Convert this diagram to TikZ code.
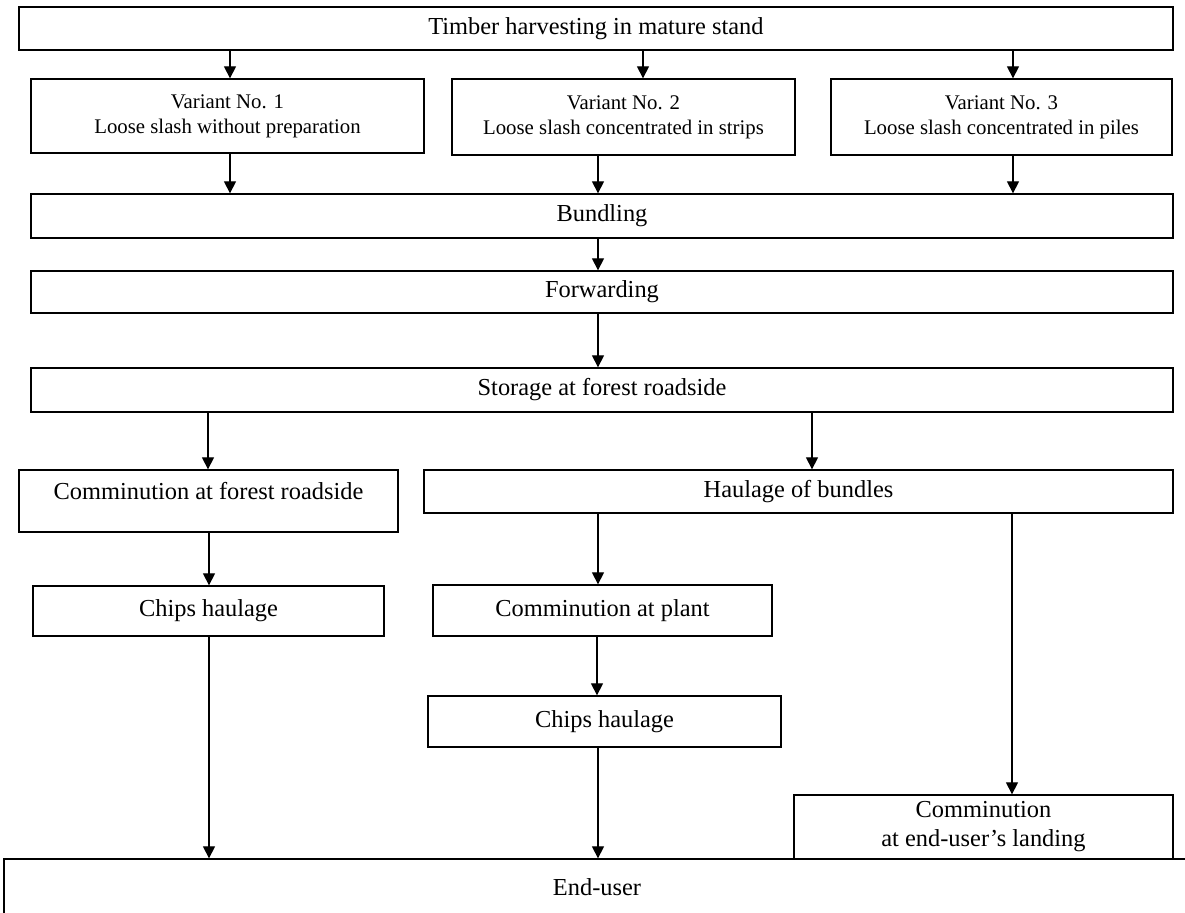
\documentclass[tikz,border=0pt]{standalone}
\usepackage{fontspec}
\setmainfont{Liberation Serif}
\usetikzlibrary{arrows.meta}
\begin{document}
\begin{tikzpicture}[x=0.5pt,y=-0.5pt,
 box/.style={draw,line width=0.65pt,inner sep=0pt,align=center,font=\fontsize{12.2}{14.5}\selectfont},
 small/.style={font=\fontsize{10.4}{12.5}\selectfont},
 arr/.style={-{Triangle[length=6pt,width=6pt]},line width=0.65pt}]
 \path[use as bounding box,clip] (0,0) rectangle (1185,913);
 % stages
 \node[box,minimum width=577pt,minimum height=21.5pt] (harvest) at (596,28.5) {Timber harvesting in mature stand};
 \node[box,small,minimum width=196.5pt,minimum height=37pt] (var1) at (227.5,116) {Variant No. 1\\Loose slash without preparation};
 \node[box,small,minimum width=171.5pt,minimum height=38pt] (var2) at (623.5,117) {Variant No. 2\\Loose slash concentrated in strips};
 \node[box,small,minimum width=170.5pt,minimum height=38pt] (var3) at (1001.5,117) {Variant No. 3\\Loose slash concentrated in piles};
 \node[box,minimum width=571pt,minimum height=22pt] (bundling) at (602,216) {Bundling};
 \node[box,minimum width=571pt,minimum height=21pt] (forwarding) at (602,292) {Forwarding};
 \node[box,minimum width=571pt,minimum height=22pt] (storage) at (602,390) {Storage at forest roadside};
 \node[box,minimum width=189.5pt,minimum height=31pt,text depth=10.5pt] (commroad) at (208.5,501) {Comminution at forest roadside};
 \node[box,minimum width=374.5pt,minimum height=21.5pt] (haulage) at (798.5,491.5) {Haulage of bundles};
 \node[box,minimum width=175.5pt,minimum height=25pt] (chipsA) at (208.5,611) {Chips haulage};
 \node[box,minimum width=169.5pt,minimum height=25.5pt] (commplant) at (602.5,610.5) {Comminution at plant};
 \node[box,minimum width=176.5pt,minimum height=25.5pt] (chipsB) at (604.5,721.5) {Chips haulage};
 \node[box,minimum width=189.5pt,minimum height=32pt] (commland) at (983.5,827) {Comminution\\at end-user’s landing};
 \node[box,minimum width=593pt,minimum height=28pt] (enduser) at (597,887) {End-user};
 % flows
 \draw[arr] (harvest.south -| 230,0) -- (var1.north -| 230,0);
 \draw[arr] (harvest.south -| 643,0) -- (var2.north -| 643,0);
 \draw[arr] (harvest.south -| 1013,0) -- (var3.north -| 1013,0);
 \draw[arr] (var1.south -| 230,0) -- (bundling.north -| 230,0);
 \draw[arr] (var2.south -| 598,0) -- (bundling.north -| 598,0);
 \draw[arr] (var3.south -| 1013,0) -- (bundling.north -| 1013,0);
 \draw[arr] (bundling.south -| 598,0) -- (forwarding.north -| 598,0);
 \draw[arr] (forwarding.south -| 598,0) -- (storage.north -| 598,0);
 \draw[arr] (storage.south -| 208,0) -- (commroad.north -| 208,0);
 \draw[arr] (storage.south -| 812,0) -- (haulage.north -| 812,0);
 \draw[arr] (commroad.south -| 209,0) -- (chipsA.north -| 209,0);
 \draw[arr] (chipsA.south -| 209,0) -- (enduser.north -| 209,0);
 \draw[arr] (haulage.south -| 598,0) -- (commplant.north -| 598,0);
 \draw[arr] (commplant.south -| 597,0) -- (chipsB.north -| 597,0);
 \draw[arr] (chipsB.south -| 598,0) -- (enduser.north -| 598,0);
 \draw[arr] (haulage.south -| 1012,0) -- (commland.north -| 1012,0);
\end{tikzpicture}
\end{document}
